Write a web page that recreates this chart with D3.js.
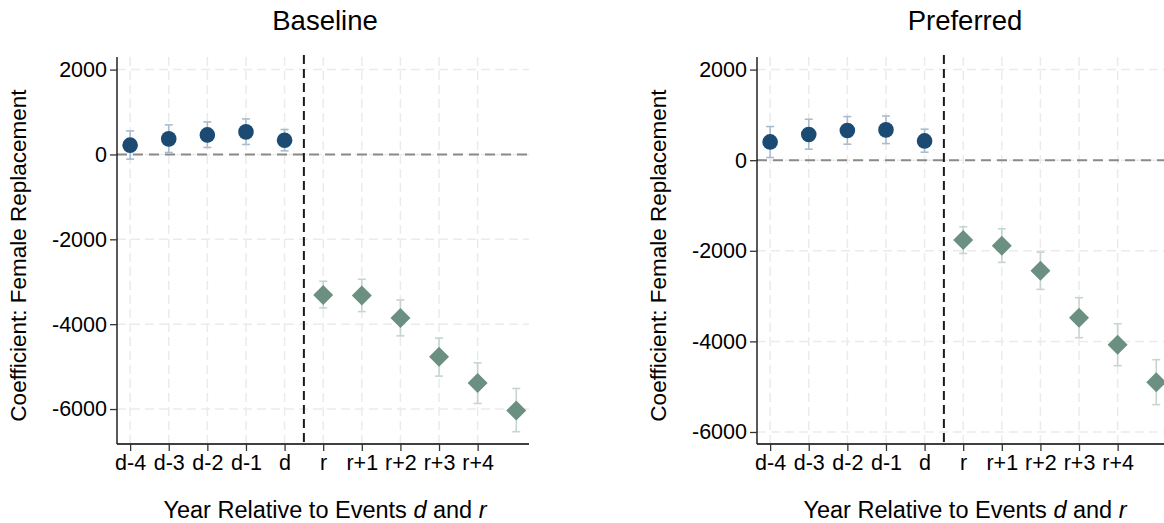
<!DOCTYPE html>
<html><head><meta charset="utf-8">
<script src="https://cdn.jsdelivr.net/npm/d3@7"></script>
<style>body{margin:0;background:#fff;} svg{display:block;font-family:"Liberation Sans",Arial,sans-serif;}</style>
</head><body>
<svg id="c" width="1164" height="523"></svg>
<script>
const xLabels = ["d-4","d-3","d-2","d-1","d","r","r+1","r+2","r+3","r+4"];
const yTicks = [2000, 0, -2000, -4000, -6000];
const panelTitles = ["Baseline", "Preferred"];

// Baseline: pre-period (circles) and post-period (diamonds)
const basePre    = [219, 367, 461, 532, 336];
const basePreLo  = [-110, 47, 165, 235, 85];
const basePreHi  = [555, 697, 767, 838, 588];
const basePost   = [-3311, -3327, -3852, -4769, -5388, -6033];
const basePostLo = [-3617, -3703, -4275, -5224, -5868, -6534];
const basePostHi = [-2988, -2941, -3428, -4330, -4911, -5515];

// Preferred
const prefPre    = [404, 566, 655, 669, 426];
const prefPreLo  = [59, 243, 353, 367, 176];
const prefPreHi  = [743, 904, 963, 977, 684];
const prefPost   = [-1764, -1889, -2441, -3477, -4073, -4903];
const prefPostLo = [-2058, -2256, -2852, -3918, -4536, -5396];
const prefPostHi = [-1470, -1514, -2029, -3036, -3610, -4404];

const yDomains = [[-6824, 2297], [-6265, 2278]];

const panels = [
  {title: panelTitles[0], pre: basePre, preLo: basePreLo, preHi: basePreHi, post: basePost, postLo: basePostLo, postHi: basePostHi, yd: yDomains[0], x0: 117},
  {title: panelTitles[1], pre: prefPre, preLo: prefPreLo, preHi: prefPreHi, post: prefPost, postLo: prefPostLo, postHi: prefPostHi, yd: yDomains[1], x0: 757}
];

const svg = d3.select("#c");
const W = 412, pTop = 57, pBottom = 444;
const circCol = "#1b4a72", circCI = "#a9bccf";
const diaCol = "#6b8f81", diaCI = "#c6d6cd";
const grid = "#ebebeb";
const FONT = "Liberation Sans, Arial, sans-serif";

panels.forEach(p => {
  const g = svg.append("g");
  const x = d3.scaleLinear().domain([0.66, 11.33]).range([p.x0, p.x0 + W]);
  const y = d3.scaleLinear().domain(p.yd).range([pBottom, pTop]);

  g.selectAll(".hg").data(yTicks).join("line")
    .attr("x1", x(0.66)).attr("x2", x(11.33))
    .attr("y1", d => y(d)).attr("y2", d => y(d))
    .attr("stroke", grid).attr("stroke-width", 1.5).attr("stroke-dasharray", "9,5");
  g.selectAll(".vg").data(xLabels).join("line")
    .attr("x1", (d,i) => x(i+1)).attr("x2", (d,i) => x(i+1))
    .attr("y1", pTop).attr("y2", pBottom)
    .attr("stroke", grid).attr("stroke-width", 1.5).attr("stroke-dasharray", "9,5");

  g.append("line").attr("x1", x(0.66)).attr("x2", x(11.33))
    .attr("y1", y(0)).attr("y2", y(0))
    .attr("stroke", "#8a8a8a").attr("stroke-width", 2).attr("stroke-dasharray", "10,6");
  g.append("line").attr("x1", x(5.5)).attr("x2", x(5.5))
    .attr("y1", pTop - 2).attr("y2", pBottom)
    .attr("stroke", "#1a1a1a").attr("stroke-width", 2).attr("stroke-dasharray", "9,5");

  const ya = d3.axisLeft(y).tickValues(yTicks).tickSize(7).tickPadding(3).tickFormat(d => String(d));
  const ga = g.append("g").attr("transform", `translate(${p.x0},0)`).call(ya);
  ga.select(".domain").attr("d", `M0,${pTop}V${pBottom}`).attr("stroke", "#000").attr("stroke-width", 1.3);
  ga.selectAll(".tick line").attr("stroke", "#333").attr("stroke-width", 1.3);
  ga.selectAll(".tick text").attr("font-size", 21.5).attr("fill", "#000").attr("font-family", FONT);

  const xa = d3.axisBottom(x).tickValues(d3.range(1, 11)).tickSize(7).tickPadding(4).tickFormat((d) => xLabels[d-1]);
  const gx = g.append("g").attr("transform", `translate(0,${pBottom})`).call(xa);
  gx.select(".domain").attr("d", `M${p.x0},0H${p.x0 + W}`).attr("stroke", "#000").attr("stroke-width", 1.3);
  gx.selectAll(".tick line").attr("stroke", "#333").attr("stroke-width", 1.3);
  gx.selectAll(".tick text").attr("font-size", 21.5).attr("fill", "#000").attr("font-family", FONT);

  const cap = 4;
  const drawCI = (vals, lo, hi, off, col) => {
    vals.forEach((v, i) => {
      const cx = x(i + 1 + off);
      g.append("line").attr("x1", cx).attr("x2", cx).attr("y1", y(lo[i])).attr("y2", y(hi[i])).attr("stroke", col).attr("stroke-width", 1.6);
      g.append("line").attr("x1", cx - cap).attr("x2", cx + cap).attr("y1", y(lo[i])).attr("y2", y(lo[i])).attr("stroke", col).attr("stroke-width", 1.6);
      g.append("line").attr("x1", cx - cap).attr("x2", cx + cap).attr("y1", y(hi[i])).attr("y2", y(hi[i])).attr("stroke", col).attr("stroke-width", 1.6);
    });
  };
  drawCI(p.pre, p.preLo, p.preHi, 0, circCI);
  drawCI(p.post, p.postLo, p.postHi, 5, diaCI);

  g.selectAll(".c").data(p.pre).join("circle")
    .attr("cx", (d,i) => x(i+1)).attr("cy", d => y(d)).attr("r", 7.8).attr("fill", circCol);
  const dsz = 10;
  g.selectAll(".dm").data(p.post).join("path")
    .attr("d", (d,i) => { const cx = x(i+6), cy = y(d); return `M${cx},${cy-dsz}L${cx+dsz},${cy}L${cx},${cy+dsz}L${cx-dsz},${cy}Z`; })
    .attr("fill", diaCol);

  const cxp = (x(0.66) + x(11.33)) / 2;
  g.append("text").attr("x", cxp + 2).attr("y", 30).attr("text-anchor", "middle").attr("font-size", 27.5).text(p.title);
  g.append("text").attr("transform", `translate(${p.x0 - 91},${(pTop+pBottom)/2 + 5}) rotate(-90)`)
    .attr("text-anchor", "middle").attr("font-size", 22.5).text("Coefficient: Female Replacement");
  const xt = g.append("text").attr("x", cxp + 2).attr("y", 518).attr("text-anchor", "middle").attr("font-size", 23.5);
  xt.append("tspan").text("Year Relative to Events ");
  xt.append("tspan").attr("font-style", "italic").text("d");
  xt.append("tspan").text(" and ");
  xt.append("tspan").attr("font-style", "italic").text("r");
});
</script>
</body></html>
